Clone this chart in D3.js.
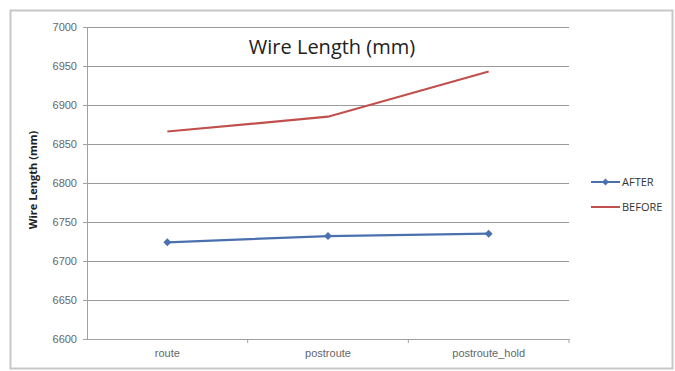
<!DOCTYPE html>
<html>
<head>
<meta charset="utf-8">
<script src="https://cdn.jsdelivr.net/npm/d3@7"></script>
<style>
  body { margin: 0; background: #fff; }
  svg { display: block; font-family: "Open Sans", sans-serif; }
</style>
</head>
<body>
<svg width="675" height="371"></svg>
<script>
const categories = ['route', 'postroute', 'postroute_hold']
const afterValues = [6724, 6732, 6735]
const beforeValues = [6866, 6885, 6943]
const yTicks = [6600, 6650, 6700, 6750, 6800, 6850, 6900, 6950, 7000]

const svg = d3.select('svg')
const width = +svg.attr('width')
const height = +svg.attr('height')
const margin = { top: 27, right: 106, bottom: 32, left: 87 }
const innerWidth = width - margin.left - margin.right
const innerHeight = height - margin.top - margin.bottom

// outer chart frame
svg.append('rect')
  .attr('x', 10.5).attr('y', 10.5)
  .attr('width', width - 13).attr('height', height - 13)
  .attr('fill', '#fff')
  .attr('stroke', '#c8c8c8')
  .attr('stroke-width', 2)

const g = svg.append('g')
  .attr('transform', 'translate(' + margin.left + ',' + margin.top + ')')

const xScale = d3.scaleBand()
  .domain(categories)
  .range([0, innerWidth])

const yScale = d3.scaleLinear()
  .domain([6600, 7000])
  .range([innerHeight, 0])

// gridlines
g.selectAll('.grid')
  .data(yTicks)
  .join('line')
  .attr('x1', 0).attr('x2', innerWidth)
  .attr('y1', d => Math.round(yScale(d)) + 0.5)
  .attr('y2', d => Math.round(yScale(d)) + 0.5)
  .attr('stroke', '#9a9a9a')
  .attr('stroke-width', 1.2)

// y axis
const yAxis = g.append('g')
  .call(d3.axisLeft(yScale).tickValues(yTicks).tickFormat(d3.format('d')).tickSize(4).tickPadding(6))
yAxis.select('.domain').attr('stroke', '#a0a0a0')
yAxis.selectAll('line').attr('stroke', '#a0a0a0')
yAxis.selectAll('text').attr('fill', '#666').attr('font-size', 11)

// x axis, ticks on band boundaries
const xAxis = g.append('g')
  .attr('transform', 'translate(0,' + innerHeight + ')')
  .call(d3.axisBottom(xScale).tickSize(0).tickPadding(10))
xAxis.select('.domain').attr('stroke', '#a0a0a0')
xAxis.selectAll('text').attr('fill', '#666').attr('font-size', 11)
xAxis.selectAll('.bnd')
  .data(categories)
  .join('line')
  .attr('x1', d => xScale(d) + xScale.bandwidth())
  .attr('x2', d => xScale(d) + xScale.bandwidth())
  .attr('y1', 0).attr('y2', 4)
  .attr('stroke', '#a0a0a0')

const cx = d => xScale(d) + xScale.bandwidth() / 2

const line = d3.line()
  .x(d => cx(d.cat))
  .y(d => yScale(d.v))

const series = [
  { name: 'AFTER', values: afterValues, color: '#4a70ae', marker: true },
  { name: 'BEFORE', values: beforeValues, color: '#c0504d', marker: false }
]

series.forEach(s => {
  const pts = categories.map((c, i) => ({ cat: c, v: s.values[i] }))
  g.append('path')
    .datum(pts)
    .attr('fill', 'none')
    .attr('stroke', s.color)
    .attr('stroke-width', 2.2)
    .attr('d', line)
  if (s.marker) {
    g.selectAll('.m-' + s.name)
      .data(pts)
      .join('path')
      .attr('d', d3.symbol(d3.symbolDiamond2, 40))
      .attr('transform', d => 'translate(' + cx(d.cat) + ',' + yScale(d.v) + ')')
      .attr('fill', s.color)
  }
})

// title
svg.append('text')
  .attr('x', 332).attr('y', 54)
  .attr('text-anchor', 'middle')
  .attr('font-size', 20)
  .attr('fill', '#222')
  .text('Wire Length (mm)')

// y axis title
svg.append('text')
  .attr('transform', 'translate(37,180) rotate(-90)')
  .attr('text-anchor', 'middle')
  .attr('font-size', 11)
  .attr('font-weight', 'bold')
  .attr('fill', '#222')
  .text('Wire Length (mm)')

// legend
const legend = svg.append('g')
  .attr('transform', 'translate(591,182)')
series.forEach((s, i) => {
  const row = legend.append('g').attr('transform', 'translate(0,' + i * 25 + ')')
  row.append('line')
    .attr('x1', 0).attr('x2', 29)
    .attr('stroke', s.color).attr('stroke-width', 2)
  if (s.marker) {
    row.append('path')
      .attr('d', d3.symbol(d3.symbolDiamond2, 30))
      .attr('transform', 'translate(14.5,0)')
      .attr('fill', s.color)
  }
  row.append('text')
    .attr('x', 31).attr('dy', '0.35em')
    .attr('font-size', 11)
    .attr('fill', '#333')
    .text(s.name)
})
</script>
</body>
</html>
